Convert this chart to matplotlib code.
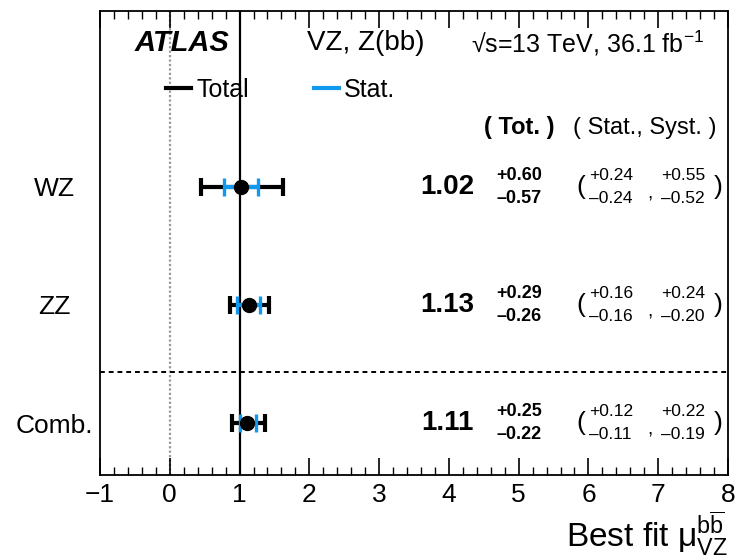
import numpy as np
import matplotlib
matplotlib.use('Agg')
import matplotlib.pyplot as plt
from matplotlib.ticker import MultipleLocator, FuncFormatter
from matplotlib.lines import Line2D

plt.rcParams['font.family'] = ['Liberation Sans', 'DejaVu Sans']
plt.rcParams['mathtext.fontset'] = 'custom'
plt.rcParams['mathtext.rm'] = 'Liberation Sans'
plt.rcParams['mathtext.it'] = 'Liberation Sans'
plt.rcParams['mathtext.bf'] = 'Liberation Sans:bold'

# Data
channels = ['WZ', 'ZZ', 'Comb.']
mu = [1.02, 1.13, 1.11]
tot_up = [0.60, 0.29, 0.25]
tot_dn = [0.57, 0.26, 0.22]
stat_up = [0.24, 0.16, 0.12]
stat_dn = [0.24, 0.16, 0.11]
syst_up = [0.55, 0.24, 0.22]
syst_dn = [0.52, 0.20, 0.19]
ypos = [3, 2, 1]

BLUE = '#0f9af0'

fig = plt.figure(figsize=(7.37, 5.58), dpi=100)
ax = fig.add_axes([100/737, 1 - 475/558, 628/737, 464/558])

ax.set_xlim(-1, 8)
ax.set_ylim(0.56, 4.49)

# reference lines
ax.axvline(1, color='black', lw=1.6, zorder=1)
ax.axvline(0, color='#999999', lw=1.6, ls=(0, (1, 1)), zorder=1)
ax.axhline(1.43, color='black', lw=1.4, ls=(0, (2.5, 2)), zorder=1)

# total and stat error bars
ax.errorbar(mu, ypos, xerr=[tot_dn, tot_up], fmt='none', ecolor='black',
            elinewidth=3.0, capsize=6.5, capthick=3.0, zorder=2)
ax.errorbar(mu, ypos, xerr=[stat_dn, stat_up], fmt='none', ecolor=BLUE,
            elinewidth=3.0, capsize=6.5, capthick=2.4, zorder=3)
ax.plot(mu, ypos, 'o', color='black', ms=10, zorder=4)

# numbers on the right
dy = 0.095
for i, y in enumerate(ypos):
    ax.text(4.36, y, f'{mu[i]:.2f}', ha='right', va='center',
            fontsize=20, fontweight='bold')
    ax.text(4.68, y + dy, f'+{tot_up[i]:.2f}', ha='left', va='center',
            fontsize=13, fontweight='bold')
    ax.text(4.68, y - dy, f'\u2013{tot_dn[i]:.2f}', ha='left', va='center',
            fontsize=13, fontweight='bold')
    ax.text(5.83, y, '(', ha='left', va='center', fontsize=19)
    ax.text(6.01, y + dy, f'+{stat_up[i]:.2f}', ha='left', va='center', fontsize=12.5)
    ax.text(6.01, y - dy, f'\u2013{stat_dn[i]:.2f}', ha='left', va='center', fontsize=12.5)
    ax.text(6.85, y - 0.06, ',', ha='left', va='center', fontsize=14)
    ax.text(7.04, y + dy, f'+{syst_up[i]:.2f}', ha='left', va='center', fontsize=12.5)
    ax.text(7.04, y - dy, f'\u2013{syst_dn[i]:.2f}', ha='left', va='center', fontsize=12.5)
    ax.text(7.80, y, ')', ha='left', va='center', fontsize=19)

ax.text(4.51, 3.5, '( Tot. )', ha='left', va='center', fontsize=17, fontweight='bold')
ax.text(5.78, 3.5, '( Stat., Syst. )', ha='left', va='center', fontsize=17)

# header texts
ax.text(0.055, 0.93, 'ATLAS', transform=ax.transAxes, fontsize=21,
        fontweight='bold', fontstyle='italic', va='center', ha='left')
ax.text(0.33, 0.93, 'VZ, Z(bb)', transform=ax.transAxes, fontsize=20,
        va='center', ha='left')
ax.text(0.59, 0.93, '\u221as=13 TeV, 36.1 fb$^{-1}$', transform=ax.transAxes,
        fontsize=18, va='center', ha='left')

handles = [Line2D([], [], color='black', lw=3.0),
           Line2D([], [], color=BLUE, lw=3.0)]
ax.legend(handles, ['Total', 'Stat.'], ncol=2, frameon=False, fontsize=18,
          loc='center left', bbox_to_anchor=(0.07, 0.83), handlelength=1.0,
          handletextpad=0.2, columnspacing=2.6)

# axes styling
ax.set_yticks(ypos)
ax.set_yticklabels(channels)
ax.tick_params(axis='y', length=0, pad=0, labelsize=19)
for lab in ax.get_yticklabels():
    lab.set_horizontalalignment('center')
    lab.set_x(-46/628)

ax.xaxis.set_major_locator(MultipleLocator(1))
ax.xaxis.set_minor_locator(MultipleLocator(0.2))
ax.xaxis.set_major_formatter(FuncFormatter(lambda v, p: f'{v:.0f}'.replace('-', '\u2212')))
ax.tick_params(axis='x', which='major', direction='in', length=12, width=1.2,
               top=True, labelsize=19, pad=6)
ax.tick_params(axis='x', which='minor', direction='in', length=6, width=1.0, top=True)
for s in ax.spines.values():
    s.set_linewidth(1.3)

ax.set_xlabel(r'Best fit $\mathrm{\mu}^{b\overline{b}}_{VZ}$', fontsize=24, loc='right',
              labelpad=2)

fig.savefig('out.png', dpi=100)
